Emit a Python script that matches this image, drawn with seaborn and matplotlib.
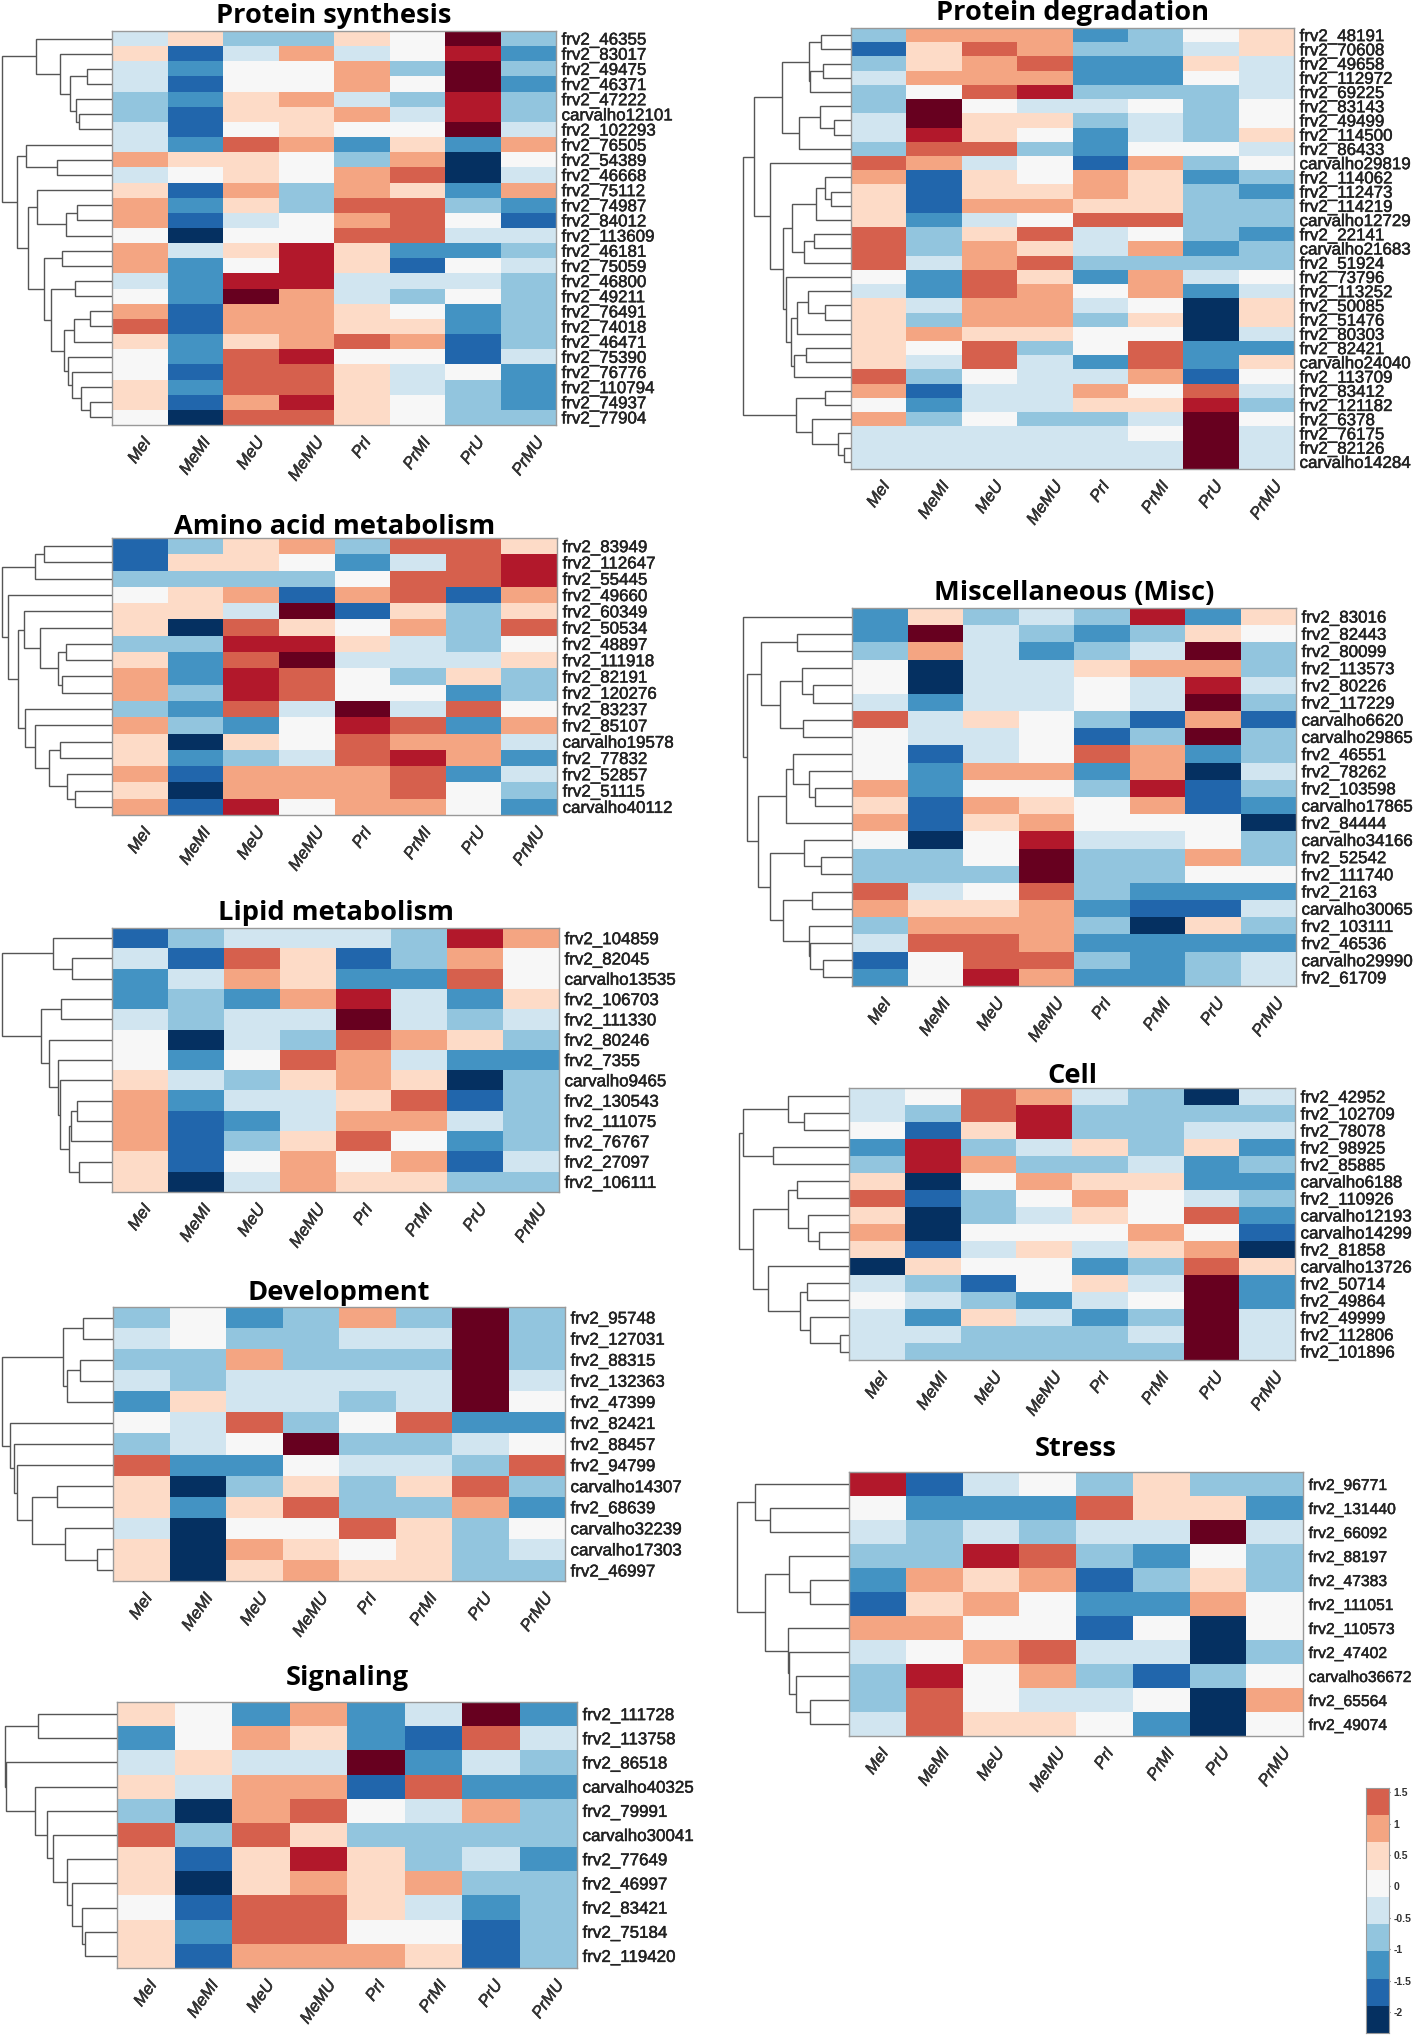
import numpy as np
import seaborn as sns
import matplotlib.pyplot as plt
import matplotlib.patheffects as pe
from matplotlib.colors import ListedColormap

# expression levels are colour classes, -5 (navy) to 5 (dark red)
conditions = ['MeI', 'MeMI', 'MeU', 'MeMU', 'PrI', 'PrMI', 'PrU', 'PrMU']
palette = ['#053061', '#2166ac', '#4393c3', '#92c5de', '#d1e5f0', '#f7f7f7',
           '#fddbc7', '#f4a582', '#d6604d', '#b2182b', '#67001f']
legend_levels = [3, 2, 1, 0, -1, -2, -3, -4, -5]
legend_ticks = [1.5, 1, 0.5, 0, -0.5, -1, -1.5, -2]
legend_labels = ['1.5', '1', '0.5', '0', '-0.5', '-1', '-1.5', '-2']
legend_top = 1.565
legend_step = 0.433

L = None  # a leaf; tree nodes are (depth, upper, lower), leaves go top to bottom

synthesis_genes = ['frv2_46355', 'frv2_83017', 'frv2_49475', 'frv2_46371', 'frv2_47222', 'carvalho12101',
                   'frv2_102293', 'frv2_76505', 'frv2_54389', 'frv2_46668', 'frv2_75112', 'frv2_74987',
                   'frv2_84012', 'frv2_113609', 'frv2_46181', 'frv2_75059', 'frv2_46800', 'frv2_49211',
                   'frv2_76491', 'frv2_74018', 'frv2_46471', 'frv2_75390', 'frv2_76776', 'frv2_110794',
                   'frv2_74937', 'frv2_77904']
synthesis_levels = [
    [-1, 1, -2, -2, 1, 0, 5, -2], [1, -4, -1, 2, -1, 0, 4, -3], [-1, -3, 0, 0, 2, -2, 5, -2],
    [-1, -4, 0, 0, 2, 0, 5, -3], [-2, -3, 1, 2, -1, -2, 4, -2], [-2, -4, 1, 1, 2, -1, 4, -2],
    [-1, -4, 0, 1, 0, 0, 5, -1], [-1, -3, 3, 2, -3, 1, -3, 2], [2, 1, 1, 0, -2, 2, -5, 0],
    [-1, 0, 1, 0, 2, 3, -5, -1], [1, -4, 2, -2, 2, 1, -3, 2], [2, -3, 1, -2, 3, 3, -2, -3],
    [2, -4, -1, 0, 2, 3, 0, -4], [0, -5, 0, 0, 3, 3, -1, -1], [2, -1, 1, 4, 1, -3, -3, -2],
    [2, -3, 0, 4, 1, -4, 0, -1], [-1, -3, 4, 4, -1, -1, -1, -2], [0, -3, 5, 2, -1, -2, 0, -2],
    [2, -4, 2, 2, 1, 0, -3, -2], [3, -4, 2, 2, 1, 1, -3, -2], [1, -3, 1, 2, 3, 2, -4, -2],
    [0, -3, 3, 4, 0, 0, -4, -1], [0, -4, 3, 3, 1, -1, 0, -3], [1, -3, 3, 3, 1, -1, -2, -3],
    [1, -4, 2, 4, 1, 0, -2, -3], [0, -5, 3, 3, 1, 0, -2, -2]]
synthesis_tree = (5,
                  (80, L, (133, L, (155, (192, L, L), (168, L, (175, L, L))))),
                  (38,
                   (58, L, (125, L, L)),
                   (62,
                    (82, L, (145, (170, L, L), L)),
                    (97,
                     (137, L, L),
                     (113,
                      (165, L, L),
                      (142,
                       (163, (200, L, L), L),
                       (150, L, (160, L, (180, L, (198, L, L))))))))))

amino_genes = ['frv2_83949', 'frv2_112647', 'frv2_55445', 'frv2_49660', 'frv2_60349', 'frv2_50534', 'frv2_48897',
               'frv2_111918', 'frv2_82191', 'frv2_120276', 'frv2_83237', 'frv2_85107', 'carvalho19578',
               'frv2_77832', 'frv2_52857', 'frv2_51115', 'carvalho40112']
amino_levels = [
    [-4, -2, 1, 2, -2, 3, 3, 1], [-4, 1, 1, 0, -3, -1, 3, 4], [-2, -2, -2, -2, 0, 3, 3, 4],
    [0, 1, 2, -4, 2, 3, -4, 2], [1, 1, -1, 5, -4, 1, -2, 1], [1, -5, 3, 1, 0, 2, -2, 3],
    [-2, -2, 4, 4, 1, -1, -2, 0], [1, -3, 3, 5, -1, -1, -1, 1], [2, -3, 4, 3, 0, -2, 1, -2],
    [2, -2, 4, 3, 0, 0, -3, -2], [-2, -3, 3, -1, 5, -1, 3, 0], [2, -2, -3, 0, 4, 3, -3, 2],
    [1, -5, 1, 0, 3, 2, 2, -1], [1, -3, -2, -1, 3, 4, 2, -3], [2, -4, 2, 2, 2, 3, -3, -1],
    [1, -5, 2, 2, 2, 3, 0, -2], [2, -4, 4, 0, 2, 2, 0, -3]]
amino_tree = (5,
              (77, (98, L, L), L),
              (18, L,
               (40,
                (52, L, (88, L, (128, (145, L, L), (138, L, L)))),
                (55, L, (78, L, (108, (133, L, L), (147, L, (165, L, L))))))))

lipid_genes = ['frv2_104859', 'frv2_82045', 'carvalho13535', 'frv2_106703', 'frv2_111330', 'frv2_80246', 'frv2_7355',
               'carvalho9465', 'frv2_130543', 'frv2_111075', 'frv2_76767', 'frv2_27097', 'frv2_106111']
lipid_levels = [
    [-4, -2, -1, -1, -1, -2, 4, 2], [-1, -4, 3, 1, -4, -2, 2, 0], [-3, -1, 2, 1, -3, -3, 3, 0],
    [-3, -2, -3, 2, 4, -1, -3, 1], [-1, -2, -1, -1, 5, -1, -2, -1], [0, -5, -1, -2, 3, 2, 1, -2],
    [0, -3, 0, 3, 2, -1, -3, -3], [1, -1, -2, 1, 2, 1, -5, -2], [2, -3, -1, -1, 1, 3, -4, -2],
    [2, -4, -3, -1, 2, 2, -1, -2], [2, -4, -2, 1, 3, 0, -3, -2], [1, -4, 0, 2, 0, 2, -4, -1],
    [1, -5, -1, 2, 1, 1, -2, -2]]
lipid_tree = (5,
              (117, L, (160, L, L)),
              (90,
               (135, L, L),
               (108, L, (128, L, (133, L, (153, (158, (170, L, L), L), (175, L, L)))))))

development_genes = ['frv2_95748', 'frv2_127031', 'frv2_88315', 'frv2_132363', 'frv2_47399', 'frv2_82421',
                     'frv2_88457', 'frv2_94799', 'carvalho14307', 'frv2_68639', 'carvalho32239',
                     'carvalho17303', 'frv2_46997']
development_levels = [
    [-2, 0, -3, -2, 2, -2, 5, -2], [-1, 0, -2, -2, -1, -1, 5, -2], [-2, -2, 2, -2, -2, -2, 5, -2],
    [-1, -2, -1, -1, -1, -1, 5, -1], [-3, 1, -1, -1, -2, -1, 5, 0], [0, -1, 3, -2, 0, 3, -3, -3],
    [-2, -1, 0, 5, -2, -2, -1, 0], [3, -3, -3, 0, -1, -1, -2, 3], [1, -5, -2, 1, -2, 1, 3, -2],
    [1, -3, 1, 3, -2, -2, 2, -3], [-1, -5, 0, 0, 3, 1, -2, 0], [1, -5, 2, 1, 0, 1, -2, -1],
    [1, -5, 1, 2, 1, 1, -2, -2]]
development_tree = (5,
                    (140, (183, L, L), (148, (176, L, L), L)),
                    (22, L, (32, L, (38, L,
                                     (70, (127, L, L), (143, L, (215, L, L)))))))

signaling_genes = ['frv2_111728', 'frv2_113758', 'frv2_86518', 'carvalho40325', 'frv2_79991', 'carvalho30041',
                   'frv2_77649', 'frv2_46997', 'frv2_83421', 'frv2_75184', 'frv2_119420']
signaling_levels = [
    [1, 0, -3, 2, -3, -1, 5, -3], [-3, 0, 2, 1, -3, -4, 3, -1], [-1, 1, -1, -1, 5, -3, -1, -2],
    [1, -1, 2, 2, -4, 3, -3, -3], [-2, -5, 2, 3, 0, -1, 2, -2], [3, -2, 3, 1, -2, -2, -2, -2],
    [1, -4, 1, 4, 1, -2, -1, -3], [1, -5, 1, 2, 1, 2, -2, -2], [0, -4, 3, 3, 1, -1, -3, -2],
    [1, -3, 3, 3, 0, 0, -4, -2], [1, -4, 2, 2, 2, 1, -4, -2]]
signaling_tree = (12,
                  (83, L, L),
                  (14, L, (78, L, (104, L, (118, L, (147, L, (160, L, (182, L, (187, L, L)))))))))

degradation_genes = ['frv2_48191', 'frv2_70608', 'frv2_49658', 'frv2_112972', 'frv2_69225', 'frv2_83143',
                     'frv2_49499', 'frv2_114500', 'frv2_86433', 'carvalho29819', 'frv2_114062', 'frv2_112473',
                     'frv2_114219', 'carvalho12729', 'frv2_22141', 'carvalho21683', 'frv2_51924', 'frv2_73796',
                     'frv2_113252', 'frv2_50085', 'frv2_51476', 'frv2_80303', 'frv2_82421', 'carvalho24040',
                     'frv2_113709', 'frv2_83412', 'frv2_121182', 'frv2_6378', 'frv2_76175', 'frv2_82126',
                     'carvalho14284']
degradation_levels = [
    [-2, 2, 2, 2, -3, -2, 0, 1], [-4, 1, 3, 2, -2, -2, -1, 1], [-2, 1, 2, 3, -3, -3, 1, -1],
    [-1, 2, 2, 2, -3, -3, 0, -1], [-2, 0, 3, 4, -2, -2, -2, -1], [-2, 5, 0, -1, -1, 0, -2, 0],
    [-1, 5, 1, 1, -2, -1, -2, 0], [-1, 4, 1, 0, -3, -1, -2, 1], [-2, 3, 3, -2, -3, 0, 0, -1],
    [3, 2, -1, 0, -4, 2, -2, 0], [2, -4, 1, 0, 2, 1, -3, -2], [1, -4, 1, 1, 2, 1, -2, -3],
    [1, -4, 2, 2, 1, 1, -2, -2], [1, -3, -1, 0, 3, 3, -2, -2], [3, -2, 1, 3, -1, 0, -2, -3],
    [3, -2, 2, 1, -1, 2, -3, -2], [3, -1, 2, 3, -2, -2, -2, -2], [0, -3, 3, 1, -3, 2, -1, 0],
    [-1, -3, 3, 2, 0, 2, -3, -1], [1, -1, 2, 2, -1, 0, -5, 1], [1, -2, 2, 2, -2, 1, -5, 1],
    [1, 2, 1, 1, 0, 0, -5, -1], [1, 0, 3, -2, 0, 3, -3, -3], [1, -1, 3, -1, -3, 3, -3, 1],
    [3, -2, 0, -1, -1, 2, -4, 0], [2, -4, -1, -1, 2, 0, 3, -1], [0, -3, -1, -1, 1, 1, 4, -2],
    [2, -2, 0, -2, -2, -1, 5, 0], [-1, -1, -1, -1, -1, 0, 5, -1], [-1, -1, -1, -1, -1, -1, 5, -1],
    [-1, -1, -1, -1, -1, -1, 5, -1]]
degradation_tree = (72,
                    (98,
                     (160,
                      (218, (246, L, L), (222, (250, L, L), L)),
                      (197, (243, L, (275, L, L)), L)),
                     (132, L,
                      (162,
                       (182,
                        (234, (255, L, (268, L, L)), L),
                        (208, (230, L, L), L)),
                       (167, L,
                        (178,
                         (192, (217, L, (255, L, L)), L),
                         (185, (213, L, L), L)))))),
                    (190, (255, L, L), (226, L, (283, L, (297, L, L)))))

misc_genes = ['frv2_83016', 'frv2_82443', 'frv2_80099', 'frv2_113573', 'frv2_80226', 'frv2_117229', 'carvalho6620',
              'carvalho29865', 'frv2_46551', 'frv2_78262', 'frv2_103598', 'carvalho17865', 'frv2_84444',
              'carvalho34166', 'frv2_52542', 'frv2_111740', 'frv2_2163', 'carvalho30065', 'frv2_103111',
              'frv2_46536', 'carvalho29990', 'frv2_61709']
misc_levels = [
    [-3, 1, -2, -1, -2, 4, -3, 1], [-3, 5, -1, -2, -3, -2, 1, 0], [-2, 2, -1, -3, -2, -1, 5, -2],
    [0, -5, -1, -1, 1, 2, 2, -2], [0, -5, -1, -1, 0, -1, 4, -1], [-1, -3, -1, -1, 0, -1, 5, -2],
    [3, -1, 1, 0, -2, -4, 2, -4], [0, -1, -1, 0, -4, -2, 5, -2], [0, -4, -1, 0, 3, 2, -3, -2],
    [0, -3, 2, 2, -3, 2, -5, -1], [2, -3, 0, 0, -2, 4, -4, -2], [1, -4, 2, 1, 0, 2, -4, -3],
    [2, -4, 1, 2, 0, 0, 0, -5], [0, -5, 0, 4, -1, -1, 0, -2], [-2, -2, 0, 5, -2, -2, 2, -2],
    [-2, -2, -2, 5, -2, -2, 0, 0], [3, -1, 0, 3, -2, -3, -3, -3], [2, 1, 1, 2, -3, -4, -4, -1],
    [-2, 2, 2, 2, -2, -5, 1, -2], [-1, 3, 3, 2, -3, -3, -3, -3], [-4, 0, 3, 3, -2, -3, -2, -1],
    [-3, 0, 4, 2, -3, -3, -2, -1]]
misc_tree = (72, L,
             (82,
              (112,
               (193, L, L),
               (155, (203, L, (228, L, L)), (205, L, L))),
              (105,
               (167, (183, L, (218, L, (233, L, L))), L),
               (132,
                (208, L, (245, L, L)),
                (162, (225, L, L), (218, L, (222, L, (250, L, L))))))))

cell_genes = ['frv2_42952', 'frv2_102709', 'frv2_78078', 'frv2_98925', 'frv2_85885', 'carvalho6188', 'frv2_110926',
              'carvalho12193', 'carvalho14299', 'frv2_81858', 'carvalho13726', 'frv2_50714', 'frv2_49864',
              'frv2_49999', 'frv2_112806', 'frv2_101896']
cell_levels = [
    [-1, 0, 3, 2, -1, -2, -5, -1], [-1, -2, 3, 4, -2, -2, -2, -2], [0, -4, 1, 4, -2, -2, -1, -1],
    [-3, 4, -2, -1, 1, -2, 1, -3], [-2, 4, 2, -2, -2, -1, -3, -2], [1, -5, 0, 2, 1, 1, -3, -3],
    [3, -4, -2, 0, 2, 0, -1, -2], [1, -5, -2, -1, 1, 0, 3, -3], [2, -5, 0, 0, 0, 2, 0, -4],
    [1, -4, -1, 1, -1, 1, 2, -5], [-5, 1, 0, 0, -3, -2, 3, 1], [-1, -2, -4, 0, 1, -1, 5, -3],
    [0, -1, -2, -3, -1, 0, 5, -3], [-1, -3, 1, -1, -3, -2, 5, -1], [-1, -1, -2, -2, -2, -1, 5, -1],
    [-1, -2, -2, -2, -2, -2, 5, -1]]
cell_tree = (65,
             (73, (172, L, (207, L, L)), (140, L, L)),
             (95,
              (173, (192, L, L), (217, L, (240, L, L))),
              (128, L, (200, (215, L, L), (222, L, (287, L, L))))))

stress_genes = ['frv2_96771', 'frv2_131440', 'frv2_66092', 'frv2_88197', 'frv2_47383', 'frv2_111051', 'frv2_110573',
                'frv2_47402', 'carvalho36672', 'frv2_65564', 'frv2_49074']
stress_levels = [
    [4, -4, -1, 0, -2, 1, -2, -2], [0, -3, -3, -3, 3, 1, 1, -3], [-1, -2, -1, -2, -1, -1, 5, -1],
    [-2, -2, 4, 3, -2, -3, 0, -2], [-3, 2, 1, 2, -4, -2, 1, -2], [-4, 1, 2, 0, -3, -3, 2, 0],
    [2, 2, 0, 0, -4, 0, -5, 0], [-1, 0, 2, 3, -1, -1, -5, -2], [-2, 4, 0, 2, -2, -4, -2, 0],
    [-2, 3, 0, -1, -1, 0, -5, 2], [-1, 3, 1, 1, 0, -3, -5, 0]]
stress_tree = (60,
               (100, L, (133, L, L)),
               (122,
                (175, L, (220, L, L)),
                (172, L, (174, L, (190, L, (220, L, L))))))

W, H = 1417, 2035
DEPTH_SCALE = 2.21  # tree depths were read at this many units per pixel
sns.set_theme(style='white')
plt.rcParams['font.family'] = ['Liberation Sans', 'DejaVu Sans']

fig = plt.figure(figsize=(W / 100, H / 100), dpi=100, facecolor='white')
cmap = ListedColormap(palette)
semi_bold = [pe.withStroke(linewidth=0.35, foreground='#222222')]


def px_axes(x0, y0, x1, y1):
    return fig.add_axes([x0 / W, 1 - y1 / H, (x1 - x0) / W, (y1 - y0) / H])


def draw_tree(ax, node, edge, count):
    # returns y of this node, and its depth
    if node is None:
        y = count[0] + 0.5
        count[0] += 1
        return y, edge
    y1, d1 = draw_tree(ax, node[1], edge, count)
    y2, d2 = draw_tree(ax, node[2], edge, count)
    ax.plot([d1, node[0], node[0], d2], [y1, y1, y2, y2], color='#555555', lw=1.0,
            solid_joinstyle='miter', solid_capstyle='butt')
    return (y1 + y2) / 2, node[0]


def draw_panel(title, genes, levels, tree, box, origin, title_gap, gene_size=12.2):
    x0, y0, x1, y1 = box
    ax = px_axes(x0, y0, x1, y1)
    sns.heatmap(np.array(levels), ax=ax, cmap=cmap, vmin=-5.5, vmax=5.5, cbar=False,
                xticklabels=conditions, yticklabels=genes)
    ax.yaxis.tick_right()
    ax.tick_params(axis='both', length=0)
    ax.tick_params(axis='y', pad=4, labelsize=gene_size, labelcolor='#222222', labelrotation=0)
    ax.tick_params(axis='x', pad=7)
    for t in ax.get_yticklabels():
        t.set_path_effects(semi_bold)
    for t in ax.get_xticklabels():
        t.set(rotation=55, ha='center', va='top', fontsize=12, fontstyle='italic', color='#333333')
        t.set_path_effects(semi_bold)
    for side in ax.spines.values():
        side.set_visible(True)
        side.set_color('#999999')
        side.set_linewidth(1.0)

    dend = px_axes(origin, y0, x0, y1)
    edge = (x0 - origin) * DEPTH_SCALE
    draw_tree(dend, tree, edge, [0])
    dend.set_xlim(0, edge)
    dend.set_ylim(len(genes), 0)
    dend.axis('off')

    fig.text((x0 + x1) / 2 / W, 1 - (y0 - title_gap) / H, title, ha='center', va='baseline',
             fontsize=19.6, fontweight='bold', color='black', family=['Open Sans', 'DejaVu Sans'])


draw_panel('Protein synthesis', synthesis_genes, synthesis_levels, synthesis_tree, (112, 31, 556, 425), 0, 8)
draw_panel('Amino acid metabolism', amino_genes, amino_levels, amino_tree, (112, 538, 557, 815), 0, 4)
draw_panel('Lipid metabolism', lipid_genes, lipid_levels, lipid_tree, (112, 928, 559, 1192), 0, 8)
draw_panel('Development', development_genes, development_levels, development_tree, (113, 1307, 565, 1581), 0, 7)
draw_panel('Signaling', signaling_genes, signaling_levels, signaling_tree, (117, 1702, 577, 1968), 0, 17)
draw_panel('Protein degradation', degradation_genes, degradation_levels, degradation_tree,
           (851, 28, 1294, 469), 710, 8)
draw_panel('Miscellaneous (Misc)', misc_genes, misc_levels, misc_tree, (852, 608, 1296, 986), 710, 8)
draw_panel('Cell', cell_genes, cell_levels, cell_tree, (849, 1088, 1295, 1360), 710, 5)
draw_panel('Stress', stress_genes, stress_levels, stress_tree, (849, 1472, 1303, 1736), 710, 16, gene_size=11.3)

# colour key
key = px_axes(1366, 1788, 1389, 2033)
sns.heatmap(np.array(legend_levels).reshape(-1, 1), ax=key, cmap=cmap, vmin=-5.5, vmax=5.5, cbar=False,
            xticklabels=False, yticklabels=False)
key.yaxis.tick_right()
key.set_yticks([(legend_top - v) / legend_step for v in legend_ticks])
key.set_yticklabels(legend_labels, rotation=0, fontsize=7.5, fontweight='bold', color='#333333')
key.tick_params(axis='y', length=2, width=0.8, color='#444444', pad=2, right=True, direction='inout')
for side in key.spines.values():
    side.set_visible(True)
    side.set_color('#999999')
    side.set_linewidth(0.8)

fig.savefig('out.png', dpi=100, facecolor='white')
